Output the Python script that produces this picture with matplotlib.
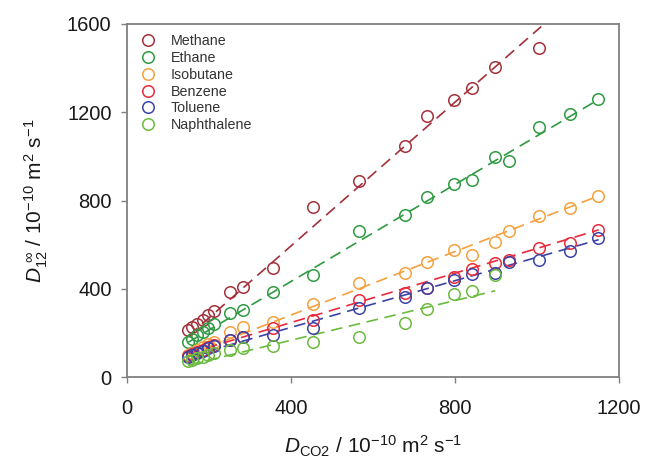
import numpy as np
import matplotlib
matplotlib.use("Agg")
import matplotlib.pyplot as plt

plt.rcParams["font.family"] = ["Liberation Sans", "DejaVu Sans"]
plt.rcParams["mathtext.fontset"] = "custom"
plt.rcParams["mathtext.rm"] = "Liberation Sans"
plt.rcParams["mathtext.it"] = "Liberation Sans:italic"
plt.rcParams["mathtext.default"] = "regular"

# CO2 self-diffusivity (x) shared by the solutes
x_low = [150, 160, 172, 185, 198, 212]
x_mid = [251, 283, 356, 454, 566, 679, 731, 798, 842, 898]

solutes = ["Methane", "Ethane", "Isobutane", "Benzene", "Toluene", "Naphthalene"]

methane_x = x_low + x_mid + [1005]
methane_y = [213, 225, 240, 258, 281, 300, 385, 410, 495, 770, 889, 1047, 1183, 1256, 1310, 1405, 1491]

ethane_x = x_low + x_mid + [932, 1005, 1080, 1149]
ethane_y = [160, 172, 190, 205, 222, 240, 290, 304, 385, 462, 662, 736, 816, 875, 893, 997, 980, 1134, 1192, 1260]

isobutane_x = x_low + x_mid + [932, 1005, 1080, 1149]
isobutane_y = [100, 110, 122, 135, 148, 160, 204, 227, 249, 331, 426, 473, 521, 576, 553, 612, 662, 730, 766, 820]

benzene_x = x_low + x_mid + [932, 1005, 1080, 1149]
benzene_y = [95, 103, 112, 122, 135, 145, 168, 181, 222, 258, 349, 381, 403, 453, 490, 517, 530, 585, 607, 666]

toluene_x = x_low + x_mid + [932, 1005, 1080, 1149]
toluene_y = [92, 100, 110, 120, 130, 142, 170, 181, 190, 222, 313, 363, 403, 440, 465, 470, 520, 530, 571, 630]

naphthalene_x = x_low + x_mid
naphthalene_y = [72, 78, 85, 92, 100, 108, 122, 131, 141, 159, 181, 245, 308, 376, 390, 462]

# linear correlations: slope, intercept, x range
fit_slope = [1.63, 1.10, 0.72, 0.56, 0.53, 0.45]
fit_intercept = [-58, -7, -7, 23, 13, -13]
fit_xmin = [150, 150, 150, 150, 150, 150]
fit_xmax = [1010, 1150, 1150, 1150, 1150, 898]

colors = ["#a3303a", "#2f9a42", "#f4a13e", "#e82a3c", "#3b44a6", "#6bbb3e"]

xs = [methane_x, ethane_x, isobutane_x, benzene_x, toluene_x, naphthalene_x]
ys = [methane_y, ethane_y, isobutane_y, benzene_y, toluene_y, naphthalene_y]

fig = plt.figure(figsize=(6.47, 4.61), dpi=100)
ax = fig.add_axes([0.196, 0.182, 0.761, 0.766])

for name, x, y, m, b, x0, x1, c in zip(solutes, xs, ys, fit_slope, fit_intercept,
                                        fit_xmin, fit_xmax, colors):
    ax.plot(x, y, "o", mfc="none", mec=c, mew=1.1, ms=8.3, label=name, zorder=3)
    xl = np.array([x0, x1])
    ax.plot(xl, m * xl + b, "--", color=c, lw=1.2, dashes=(7, 4), zorder=2)

ax.set_xlim(0, 1200)
ax.set_ylim(0, 1600)
ax.set_xticks([0, 400, 800, 1200])
ax.set_yticks([0, 400, 800, 1200, 1600])
ax.tick_params(direction="out", length=4, width=1, color="#808080",
               labelsize=14.5, labelcolor="#1a1a1a")
ax.tick_params(axis="x", pad=12)
ax.tick_params(axis="y", pad=7)
for sp in ax.spines.values():
    sp.set_color("#808080")
    sp.set_linewidth(1.3)

ax.set_xlabel(r"$\mathit{D}_{\mathrm{CO2}}$ / 10$^{-10}$ m$^2$ s$^{-1}$", fontsize=15,
              labelpad=11, color="#1a1a1a")
ax.set_ylabel(r"$\mathit{D}_{12}^{\ \infty}$ / 10$^{-10}$ m$^2$ s$^{-1}$", fontsize=15,
              labelpad=12, color="#1a1a1a")

ax.legend(loc="upper left", frameon=False, fontsize=10.3, handletextpad=1.0,
          labelspacing=0.2, borderaxespad=0.3, handlelength=1.2,
          bbox_to_anchor=(0.005, 1.0), labelcolor="#333333")

fig.savefig("out.png", dpi=100)
